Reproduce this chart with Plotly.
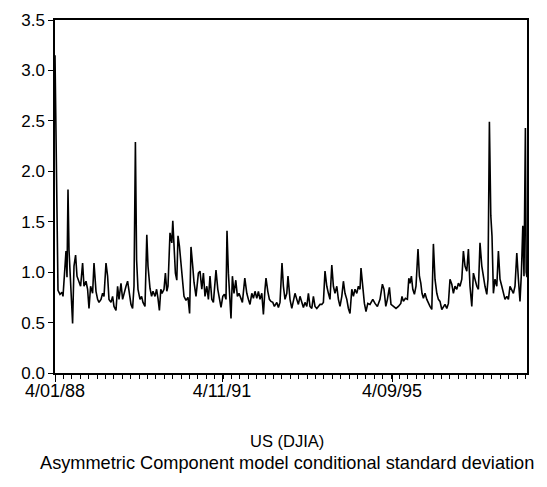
import plotly.graph_objects as go

# observation index (trading-day count from 4/01/88) and conditional std. dev.
obs = [
    0, 5, 10, 15, 25, 35, 40, 45, 50, 55,
    60, 65, 70, 75, 80, 88, 95, 103, 110, 120,
    128, 138, 145, 155, 163, 170, 178, 188, 195, 205,
    213, 220, 230, 238, 245, 255, 263, 270, 280, 288,
    295, 305, 313, 320, 330, 338, 345, 355, 363, 370,
    380, 388, 395, 402, 408, 415, 425, 433, 440, 450,
    455, 459, 465, 475, 483, 490, 500, 508, 515, 522,
    529, 535, 545, 552, 559, 565, 575, 584, 589, 595,
    602, 609, 615, 622, 628, 635, 645, 655, 665, 673,
    680, 689, 695, 705, 717, 725, 734, 742, 750, 759,
    767, 775, 784, 792, 805, 814, 822, 830, 839, 847,
    855, 860, 867, 875, 880, 887, 895, 904, 912, 920,
    929, 937, 949, 959, 967, 975, 984, 992, 1000, 1009,
    1017, 1025, 1034, 1042, 1050, 1055, 1064, 1072, 1080, 1089,
    1097, 1109, 1117, 1125, 1135, 1142, 1150, 1159, 1165, 1175,
    1184, 1192, 1200, 1209, 1217, 1225, 1234, 1242, 1250, 1259,
    1267, 1275, 1284, 1292, 1300, 1309, 1317, 1325, 1334, 1342,
    1350, 1359, 1367, 1375, 1384, 1392, 1400, 1409, 1417, 1425,
    1434, 1442, 1450, 1459, 1467, 1475, 1484, 1492, 1500, 1509,
    1517, 1525, 1530, 1539, 1547, 1555, 1564, 1575, 1589, 1600,
    1612, 1625, 1637, 1645, 1654, 1662, 1672, 1680, 1692, 1705,
    1717, 1729, 1735, 1742, 1752, 1762, 1769, 1775, 1782, 1789,
    1797, 1805, 1815, 1822, 1829, 1835, 1842, 1850, 1859, 1867,
    1875, 1884, 1892, 1900, 1909, 1917, 1925, 1934, 1942, 1950,
    1959, 1967, 1975, 1984, 1992, 2000, 2009, 2017, 2025, 2034,
    2042, 2050, 2059, 2067, 2075, 2084, 2092, 2100, 2109, 2117,
    2125, 2134, 2142, 2150, 2159, 2165, 2172, 2179, 2185, 2192,
    2200, 2209, 2217, 2225, 2234, 2242, 2250, 2259, 2267, 2275,
    2284, 2292, 2300, 2309, 2317, 2325, 2332, 2339, 2345, 2352,
    2356, 2360,
]
cond_sd = [
    3.15, 2.42, 1.30, 0.82, 0.78, 0.80, 0.76, 0.88, 1.09, 1.21,
    0.95, 1.82, 1.22, 0.99, 0.83, 0.49, 1.06, 1.17, 0.96, 0.91,
    0.86, 1.09, 0.86, 0.91, 0.83, 0.64, 0.86, 0.79, 1.09, 0.81,
    0.73, 0.70, 0.73, 0.79, 0.76, 1.09, 0.96, 0.73, 0.70, 0.76,
    0.66, 0.62, 0.86, 0.73, 0.89, 0.73, 0.79, 0.86, 0.91, 0.79,
    0.68, 0.64, 0.86, 2.29, 1.12, 0.83, 0.73, 0.76, 0.70, 0.66,
    1.15, 1.37, 1.06, 0.84, 0.76, 0.81, 0.76, 0.83, 0.74, 0.62,
    0.83, 0.79, 0.83, 0.99, 0.81, 0.86, 1.39, 1.29, 1.51, 1.29,
    0.99, 0.92, 1.36, 1.26, 1.12, 0.92, 0.76, 0.72, 0.75, 0.59,
    1.25, 1.05, 0.90, 0.76, 0.99, 1.01, 0.83, 0.99, 0.76, 0.86,
    0.73, 0.96, 0.73, 0.70, 1.02, 0.83, 0.73, 0.65, 0.76, 0.78,
    0.73, 1.41, 0.99, 0.73, 0.54, 0.96, 0.79, 0.92, 0.76, 0.79,
    0.73, 0.70, 0.94, 0.79, 0.73, 0.68, 0.79, 0.74, 0.81, 0.74,
    0.81, 0.73, 0.79, 0.58, 0.83, 0.94, 0.81, 0.73, 0.71, 0.70,
    0.66, 0.70, 0.65, 0.70, 1.09, 0.86, 0.73, 0.79, 0.96, 0.73,
    0.64, 0.73, 0.79, 0.73, 0.68, 0.76, 0.70, 0.65, 0.70, 0.66,
    0.79, 0.66, 0.64, 0.76, 0.66, 0.64, 0.66, 0.68, 0.68, 0.70,
    1.01, 0.86, 0.79, 0.73, 1.07, 0.86, 0.79, 0.86, 0.73, 0.66,
    0.76, 0.91, 0.79, 0.73, 0.64, 0.59, 0.83, 0.76, 0.83, 0.79,
    0.86, 0.83, 1.04, 0.86, 0.69, 0.61, 0.69, 0.68, 0.73, 0.69,
    0.66, 0.73, 0.88, 0.83, 0.66, 0.73, 0.85, 0.68, 0.66, 0.64,
    0.66, 0.69, 0.76, 0.71, 0.74, 0.73, 0.94, 0.89, 0.96, 0.83,
    0.78, 0.86, 1.23, 0.96, 0.89, 0.79, 0.74, 0.79, 0.73, 0.69,
    0.66, 0.63, 1.28, 0.93, 0.79, 0.73, 0.71, 0.63, 0.66, 0.68,
    0.64, 0.69, 0.93, 0.88, 0.79, 0.86, 0.83, 0.89, 0.86, 0.93,
    1.21, 1.06, 1.01, 1.23, 0.86, 0.66, 0.99, 0.93, 0.86, 0.83,
    1.29, 1.06, 0.93, 0.86, 0.78, 0.93, 2.49, 1.56, 1.36, 0.79,
    0.93, 0.86, 1.21, 0.93, 0.86, 0.79, 0.73, 0.76, 0.73, 0.86,
    0.83, 0.79, 0.86, 1.19, 0.93, 0.71, 0.99, 1.46, 0.96, 2.43,
    1.00, 0.95,
]

tick_obs = [0, 835, 1685]
tick_text = ["4/01/88", "4/11/91", "4/09/95"]
y_ticks = [0.0, 0.5, 1.0, 1.5, 2.0, 2.5, 3.0, 3.5]
title_lines = ["US (DJIA)", "Asymmetric Component model conditional standard deviation"]

FONT = "Liberation Sans, Arial, sans-serif"

fig = go.Figure()
fig.add_trace(go.Scatter(
    x=obs, y=cond_sd, mode="lines",
    line=dict(color="black", width=1.6),
    showlegend=False, hoverinfo="skip",
))

n_end = obs[-1]
fig.update_layout(
    width=547, height=487,
    margin=dict(l=55, r=20, t=20, b=114),
    paper_bgcolor="white", plot_bgcolor="white",
    font=dict(family=FONT, color="black"),
    xaxis=dict(
        range=[0, n_end], showgrid=False, zeroline=False,
        showline=True, linecolor="black", linewidth=1.5, mirror=True,
        tickmode="array", tickvals=tick_obs, ticktext=tick_text,
        ticks="outside", ticklen=7, tickwidth=1.2, tickcolor="black",
        tickfont=dict(size=18, family=FONT),
        ticklabelstandoff=-6,
        minor=dict(tickmode="array", tickvals=list(range(0, n_end + 1, 42)),
                   ticks="outside", ticklen=4, tickwidth=1, tickcolor="black",
                   showgrid=False),
    ),
    yaxis=dict(
        range=[0, 3.5], showgrid=False, zeroline=False,
        showline=True, linecolor="black", linewidth=1.5, mirror=True,
        tickmode="array", tickvals=y_ticks, tickformat=".1f",
        ticks="outside", ticklen=5, tickwidth=1.2, tickcolor="black",
        tickfont=dict(size=17, family=FONT),
    ),
)

fig.add_annotation(text=title_lines[0], xref="paper", yref="paper",
                   x=0.4915, y=-0.193, xanchor="center", yanchor="middle",
                   showarrow=False, font=dict(size=16.5, family=FONT))
fig.add_annotation(text=title_lines[1], xref="paper", yref="paper",
                   x=0.4915, y=-0.255, xanchor="center", yanchor="middle",
                   showarrow=False, font=dict(size=18.2, family=FONT))

fig.write_html("out.html")
